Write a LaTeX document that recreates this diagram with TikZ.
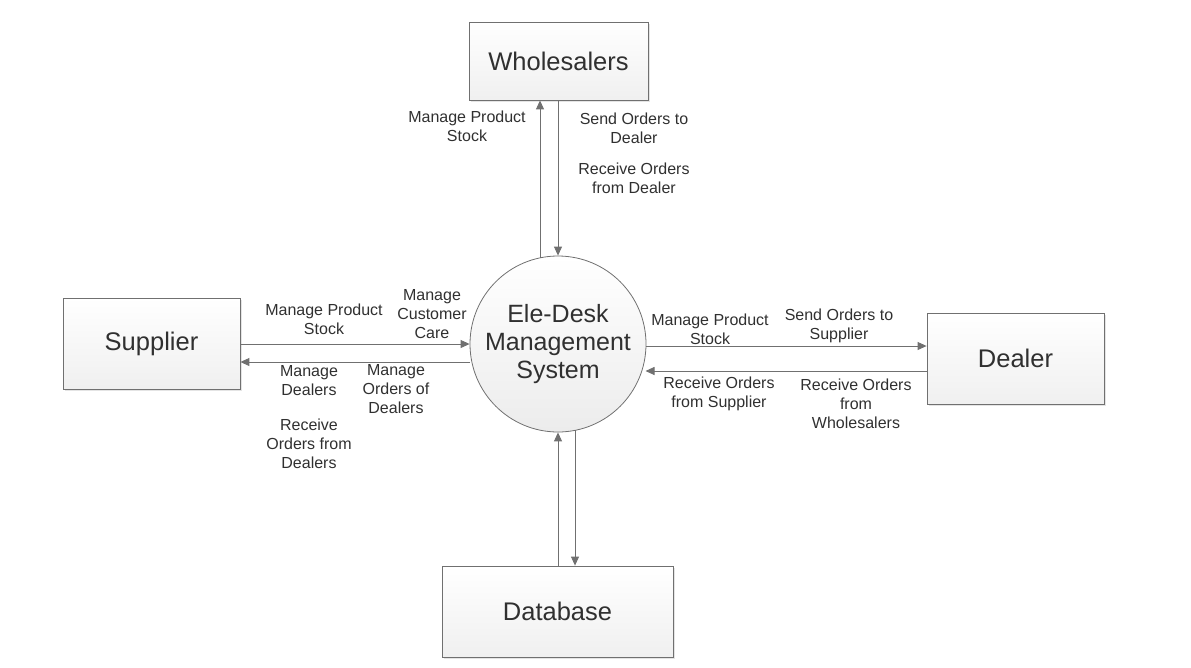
\documentclass[tikz,border=0pt]{standalone}
\usepackage{fontspec}
\setmainfont{Liberation Sans}
\usetikzlibrary{arrows.meta,shadows}
\definecolor{ln}{HTML}{707070}
\definecolor{tx}{HTML}{303030}
\tikzset{
  x=1pt,y=-1pt,
  ent/.style={draw=ln,line width=0.8pt,top color=white,bottom color=gray!12,
    drop shadow={shadow xshift=2pt,shadow yshift=-2pt,fill=gray!35,opacity=0.6},
    text=tx,font=\fontsize{25.5}{30}\selectfont,inner sep=0pt},
  proc/.style={circle,draw=ln,line width=0.8pt,top color=white,bottom color=gray!15,
    text=tx,font=\fontsize{25}{28}\selectfont,align=center,minimum size=176pt,inner sep=0pt},
  flow/.style={draw=ln,line width=0.9pt,-{Triangle[length=9pt,width=8pt]}},
  lbl/.style={text=tx,font=\fontsize{16}{19}\selectfont,align=center,inner sep=0pt}
}
\begin{document}
\begin{tikzpicture}
\useasboundingbox (0,0) rectangle (1191,667);
\node[ent,minimum width=179pt,minimum height=78pt] (wh) at (558.5,61) {Wholesalers};
\node[ent,minimum width=177pt,minimum height=91pt] (su) at (151.5,343.5) {Supplier};
\node[ent,minimum width=177pt,minimum height=91pt] (de) at (1015.5,358.5) {Dealer};
\node[ent,minimum width=231pt,minimum height=91pt] (db) at (557.5,611.5) {Database};
\node[proc] (ps) at (558,344) {Ele-Desk\\Management\\System};

% Wholesalers
\draw[flow] (ps.center -| 540,0) ++(0,-86.1) -- (wh.south -| 540,0);
\draw[flow] (wh.south -| 558,0) -- (ps.north -| 558,0);
% Supplier
\draw[flow] (su.east |- 0,344) -- (ps.west |- 0,344);
\draw[flow] (470.3,362) -- (su.east |- 0,362);
% Dealer
\draw[flow] (645.9,346) -- (de.west |- 0,346);
\draw[flow] (de.west |- 0,371) -- (645.5,371);
% Database
\draw[flow] (db.north -| 558,0) -- (ps.south -| 558,0);
\draw[flow] (575,430.4) -- (db.north -| 575,0);

\node[lbl] (l1) at (467,126) {Manage Product\\Stock};
\node[lbl] (l2) at (634,128) {Send Orders to\\Dealer};
\node[lbl] (l3) at (634,178) {Receive Orders\\from Dealer};
\node[lbl] (l4) at (324,319) {Manage Product\\Stock};
\node[lbl] (l5) at (432,314) {Manage\\Customer\\Care};
\node[lbl] (l6) at (309,381) {Manage\\Dealers};
\node[lbl] (l7) at (396,389) {Manage\\Orders of\\Dealers};
\node[lbl] (l8) at (309,444) {Receive\\Orders from\\Dealers};
\node[lbl] (l9) at (710,329) {Manage Product\\Stock};
\node[lbl] (l10) at (839,326) {Send Orders to\\Supplier};
\node[lbl] (l11) at (719,394) {Receive Orders\\from Supplier};
\node[lbl] (l12) at (856,404) {Receive Orders\\from\\Wholesalers};
\end{tikzpicture}
\end{document}
